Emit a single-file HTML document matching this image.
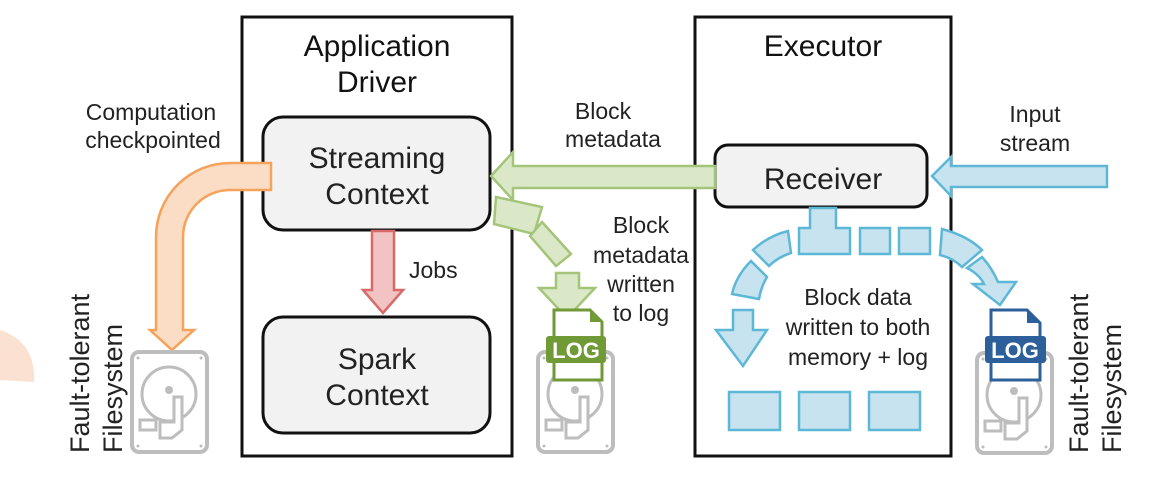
<!DOCTYPE html>
<html><head><meta charset="utf-8"><style>
html,body{margin:0;padding:0;background:#fff;}
svg{display:block;font-family:"Liberation Sans",sans-serif;}
</style></head><body>
<svg width="1160" height="500" viewBox="0 0 1160 500" xmlns="http://www.w3.org/2000/svg">
<defs>
<g id="disk">
  <rect x="0" y="0" width="75" height="100" rx="7" fill="#fff" stroke="#bdbdbd" stroke-width="4"/>
  <circle cx="37" cy="42" r="27" fill="none" stroke="#bdbdbd" stroke-width="3"/>
  <circle cx="37" cy="38" r="4" fill="#bdbdbd"/>
  <path d="M42 45 L50 45 L50 78 L40 86 L28 86 L28 70 L42 70 Z" fill="#fff" stroke="#bdbdbd" stroke-width="3"/>
  <rect x="8" y="68" width="16" height="10" fill="none" stroke="#bdbdbd" stroke-width="3"/>
  <circle cx="6" cy="94" r="1.5" fill="#bdbdbd"/><circle cx="69" cy="94" r="1.5" fill="#bdbdbd"/>
  <circle cx="6" cy="6" r="1.5" fill="#bdbdbd"/><circle cx="69" cy="6" r="1.5" fill="#bdbdbd"/>
</g>
</defs>
<path d="M0 330 Q36 342 34 382 L0 380 Z" fill="#fbe1d2"/>
<rect x="242" y="17" width="270" height="439" fill="none" stroke="#111" stroke-width="3"/>
<rect x="695" y="17" width="256" height="439" fill="none" stroke="#111" stroke-width="3"/>
<text x="377" y="56" font-size="30" text-anchor="middle" fill="#111">Application</text>
<text x="377" y="92" font-size="30" text-anchor="middle" fill="#111">Driver</text>
<text x="823" y="56" font-size="30" text-anchor="middle" fill="#111">Executor</text>
<rect x="263" y="117" width="227" height="113" rx="20" fill="#f2f2f2" stroke="#111" stroke-width="3"/>
<text x="377" y="168" font-size="30" text-anchor="middle" fill="#222">Streaming</text>
<text x="377" y="204" font-size="30" text-anchor="middle" fill="#222">Context</text>
<rect x="263" y="317" width="227" height="116" rx="20" fill="#f2f2f2" stroke="#111" stroke-width="3"/>
<text x="377" y="369" font-size="30" text-anchor="middle" fill="#222">Spark</text>
<text x="377" y="405" font-size="30" text-anchor="middle" fill="#222">Context</text>
<rect x="715" y="145" width="212" height="62" rx="13" fill="#f2f2f2" stroke="#111" stroke-width="3"/>
<text x="823" y="189" font-size="30" text-anchor="middle" fill="#222">Receiver</text>
<path d="M271 163 L230 163 A74 74 0 0 0 156 237 L156 330 L150 330 L172 350 L194 330 L183 330 L183 237 A47 47 0 0 1 230 190 L271 190 Z" fill="#fbdcc4" stroke="#f5a25a" stroke-width="2.5"/>
<path d="M372 231 L394 231 L394 290 L403 290 L383 313 L363 290 L372 290 Z" fill="#f2c3c3" stroke="#d86a6a" stroke-width="2.5"/>
<text x="409" y="278" font-size="23" fill="#222">Jobs</text>
<path d="M715 166 L513 166 L513 152 L491 176 L513 200 L513 188 L715 188 Z" fill="#dbe8c8" stroke="#a4c47a" stroke-width="2.5"/>
<path d="M496 197 L542 207 L534 234 L494 224 Z" fill="#dbe8c8" stroke="#a4c47a" stroke-width="2.5"/>
<path d="M542 222 L571 254 L556 266 L530 236 Z" fill="#dbe8c8" stroke="#a4c47a" stroke-width="2.5"/>
<path d="M556 273 L579 273 L579 288 L595 288 L567 318 L539 288 L556 288 Z" fill="#dbe8c8" stroke="#a4c47a" stroke-width="2.5"/>
<path d="M1107 166 L951 166 L951 157 L932 176 L951 196 L951 187 L1107 187 Z" fill="#c6e3ef" stroke="#5db7d6" stroke-width="2.5"/>
<g fill="#c6e3ef" stroke="#5db7d6" stroke-width="2.5">
<path d="M810 208 L836 208 L836 228 L850 228 L850 254 L799 254 L799 228 L810 228 Z"/>
<rect x="860" y="228" width="30" height="26"/>
<rect x="899" y="228" width="31" height="26"/>
<path d="M942 229 Q968 236 982 250 L962 267 Q953 258 940 255 Z"/>
<path d="M982 257 Q992 268 998 282 L1016 282 L1000 305 L973 284 L984 284 Q979 274 967 268 Z"/>
<path d="M788 231 L791 253 Q778 257 769 266 L753 250 Q768 236 788 231 Z"/>
<path d="M751 261 L767 277 Q761 287 759 299 L732 294 Q736 276 751 261 Z"/>
<path d="M733 310 L753 310 L753 330 L767 330 L743 366 L716 330 L733 330 Z"/>
<rect x="729" y="392" width="51" height="38"/>
<rect x="799" y="392" width="51" height="38"/>
<rect x="869" y="392" width="51" height="38"/>
</g>
<use href="#disk" x="132" y="352"/>
<use href="#disk" x="538" y="352"/>
<use href="#disk" x="977" y="353"/>
<path d="M554 310 L590 310 L602 322 L602 380 L554 380 Z" fill="#fff" stroke="#6f9a35" stroke-width="3"/>
<path d="M590 310 L602 322 L590 322 Z" fill="#6f9a35"/>
<rect x="546" y="336" width="60" height="27" rx="3" fill="#6f9a35"/>
<text x="576" y="358" font-size="22" font-weight="bold" text-anchor="middle" fill="#fff">LOG</text>
<path d="M991 310 L1027 310 L1040 323 L1040 380 L991 380 Z" fill="#fff" stroke="#2d5f9a" stroke-width="3"/>
<path d="M1027 310 L1040 323 L1027 323 Z" fill="#2d5f9a"/>
<rect x="985" y="336" width="61" height="27" rx="3" fill="#2d5f9a"/>
<text x="1015" y="358" font-size="22" font-weight="bold" text-anchor="middle" fill="#fff">LOG</text>
<g font-size="23" fill="#222" text-anchor="middle">
<text x="151" y="120">Computation</text>
<text x="153" y="148">checkpointed</text>
<text x="603" y="119">Block</text>
<text x="613" y="147">metadata</text>
<text x="641" y="233">Block</text>
<text x="641" y="263">metadata</text>
<text x="641" y="292">written</text>
<text x="641" y="321">to log</text>
<text x="1035" y="122">Input</text>
<text x="1035" y="151">stream</text>
<text x="858" y="305">Block data</text>
<text x="858" y="335">written to both</text>
<text x="858" y="365">memory + log</text>
</g>
<g font-size="27" fill="#222">
<text transform="translate(89,453) rotate(-90)">Fault-tolerant</text>
<text transform="translate(122,453) rotate(-90)">Filesystem</text>
<text transform="translate(1088,453) rotate(-90)">Fault-tolerant</text>
<text transform="translate(1121,453) rotate(-90)">Filesystem</text>
</g>
</svg>
</body></html>
